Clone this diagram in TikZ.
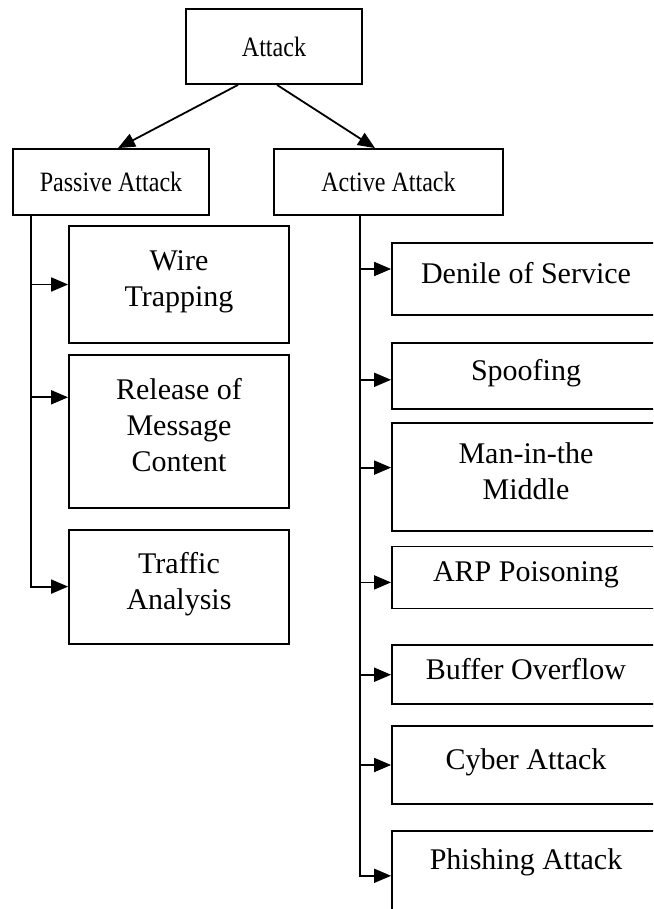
\documentclass[tikz,border=0pt]{standalone}
\usepackage{fontspec}
\setmainfont{Liberation Serif}
\newfontfamily\narrowfont{Liberation Serif}[FakeStretch=0.86]
\usepackage{tikz}
\usetikzlibrary{arrows.meta,positioning}

\begin{document}
\begin{tikzpicture}[
    x=0.5pt, y=-0.5pt,
    >={Triangle[length=8.5pt,width=7pt]},
    line width=0.9pt,
    head/.style={
		rectangle,
		draw=black,
		text centered,
		inner sep=2pt,
		font=\narrowfont\fontsize{14}{17}\selectfont,
		minimum height=33pt
	},
	order/.style={
		rectangle,
		draw=black,
		align=center,
		inner sep=2pt,
		text depth=6pt,
		font=\fontsize{15}{18}\selectfont
	},
	leftorder/.style={order, minimum width=110pt},
	rightorder/.style={order, minimum width=134pt}
  ]
  \clip (0,0) rectangle (653,909);

  % We start by placing the blocks
  \node [head, minimum width=88pt, minimum height=37.5pt] (attack) at (274,46.5) {Attack};
  \node [head, minimum width=98pt] (passive) at (111,182) {Passive Attack};
  \node [head, minimum width=114.5pt] (active) at (388.5,182) {Active Attack};

  % passive side
  \node [leftorder, minimum height=58.5pt] (wire) at (179,284.5) {Wire\\Trapping};
  \node [leftorder, minimum height=76.5pt, below=5pt of wire] (release) {Release of\\Message\\Content};
  \node [leftorder, minimum height=57pt, below=10pt of release] (traffic) {Traffic\\Analysis};

  % active side
  \node [rightorder, minimum height=36pt] (dos) at (526,279) {Denile of Service};
  \node [rightorder, minimum height=33pt, below=13pt of dos] (spoof) {Spoofing};
  \node [rightorder, minimum height=54pt, below=6pt of spoof] (mitm) {Man-in-the\\Middle};
  \node [rightorder, minimum height=31pt, below=7pt of mitm] (arp) {ARP Poisoning};
  \node [rightorder, minimum height=29.5pt, below=17.5pt of arp] (buffer) {Buffer Overflow};
  \node [rightorder, minimum height=39pt, below=10pt of buffer] (cyber) {Cyber Attack};
  \node [rightorder, minimum height=45pt, text depth=17pt, below=12.5pt of cyber] (phish) {Phishing Attack};

  \draw [draw,->] ([xshift=-18pt]attack.south) -- ([xshift=3.5pt]passive.north);
  \draw [draw,->] ([xshift=1.5pt]attack.south) -- ([xshift=-6.75pt]active.north);

  \coordinate (ptrunk) at ([xshift=9.5pt]passive.south west);
  \coordinate (atrunk) at ([xshift=43.5pt]active.south west);
  \coordinate (relin) at ([yshift=17pt]release.west);
  \coordinate (dosin) at ([yshift=5pt]dos.west);
  \coordinate (spoofin) at ([yshift=-2pt]spoof.west);
  \coordinate (mitmin) at ([yshift=4.5pt]mitm.west);
  \coordinate (arpin) at ([yshift=-2.5pt]arp.west);

  \draw [draw,->] (ptrunk) |- (traffic.west);
  \draw [draw,->] (ptrunk |- wire.west) -- (wire.west);
  \draw [draw,->] (ptrunk |- relin) -- (relin);

  \draw [draw,->] (atrunk) |- (phish.west);
  \draw [draw,->] (atrunk |- dosin) -- (dosin);
  \draw [draw,->] (atrunk |- spoofin) -- (spoofin);
  \draw [draw,->] (atrunk |- mitmin) -- (mitmin);
  \draw [draw,->] (atrunk |- arpin) -- (arpin);
  \draw [draw,->] (atrunk |- buffer.west) -- (buffer.west);
  \draw [draw,->] (atrunk |- cyber.west) -- (cyber.west);

\end{tikzpicture}
\end{document}
